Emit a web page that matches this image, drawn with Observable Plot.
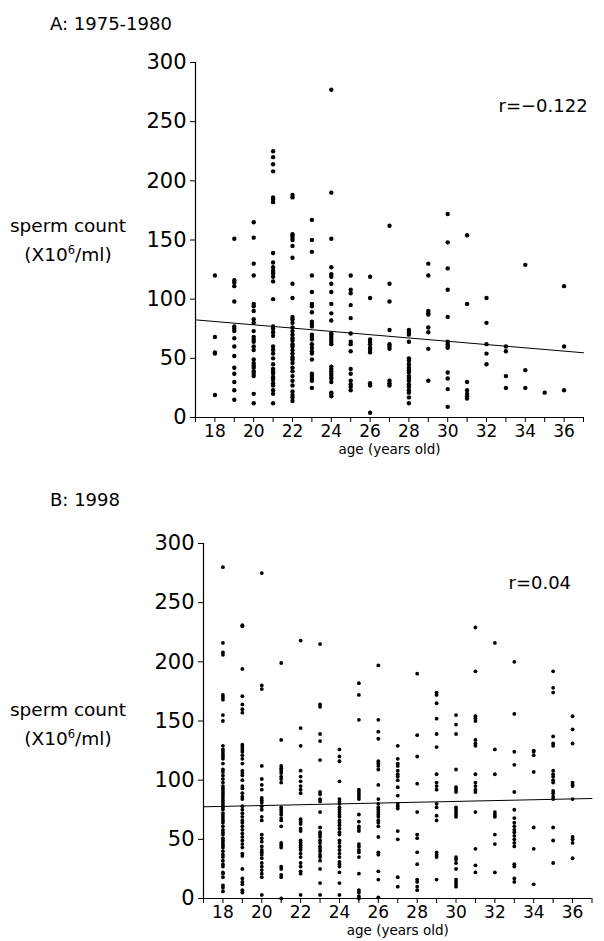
<!DOCTYPE html>
<html><head><meta charset="utf-8">
<script src="https://cdn.jsdelivr.net/npm/d3@7"></script>
<script src="https://cdn.jsdelivr.net/npm/@observablehq/plot@0.6"></script>
<style>
body{margin:0;background:#fff;}
#wrap{position:relative;width:604px;height:941px;overflow:hidden;font-family:"DejaVu Sans",sans-serif;color:#000;background:#fff;}
.panel{position:absolute;left:0;}
.lab{position:absolute;white-space:nowrap;line-height:1;}
.ttl{font-size:18px;}
.yl{font-size:18.5px;transform:translate(-50%,-50%);text-align:center;}
.yl sup{font-size:0.62em;vertical-align:0.6em;line-height:0;}
</style></head><body>
<div id="wrap">
<div id="pa" class="panel" style="top:0"></div>
<div id="pb" class="panel" style="top:470px"></div>
<div class="lab ttl" style="left:50px;top:15px">A: 1975-1980</div>
<div class="lab yl" style="left:68px;top:226px">sperm count</div>
<div class="lab yl" style="left:68px;top:255px">(X10<sup>6</sup>/ml)</div>
<div class="lab ttl" style="left:50px;top:491px">B: 1998</div>
<div class="lab yl" style="left:68px;top:710px">sperm count</div>
<div class="lab yl" style="left:68px;top:739px">(X10<sup>6</sup>/ml)</div>
</div>
<script>
const ages = [18,19,20,21,22,23,24,25,26,27,28,29,30,31,32,33,34,35,36];
const yTicks = [0,50,100,150,200,250,300];
const xTicks = d3.range(17, 38);

// Panel A: 1975-1980, sperm count (x10^6/ml) per age column
const countsA = [
  [120,68,55,54,19],
  [151,116,114,111,98,77,75,73,67,60,52,42,37,30,23,15],
  [165,152,130,120,96,94,90,83,80,73,68,66,64,60,57,49,46,44,42,39,37,35,20,12],
  [225,220,214,208,186,184,182,139,131,127,124,122,119,115,100,77,75,72,69,60,57,54,50,45,41,39,37,34,32,29,27,23,20,12],
  [188,186,155,154,152,150,145,135,113,101,85,83,80,76,73,70,67,65,62,60,57,54,51,49,46,42,39,35,31,27,22,19,17,14],
  [167,150,140,120,106,96,94,89,81,79,77,70,68,66,62,59,56,54,49,37,35,33,31,25],
  [277,190,151,127,121,119,113,106,96,88,82,71,70,68,66,64,62,43,41,39,37,35,33,30,21,20,18],
  [120,108,105,95,84,71,64,62,56,41,37,31,28,26,23],
  [119,101,66,64,62,59,57,55,29,27,4],
  [162,113,98,74,62,60,58,31,29,27],
  [74,72,70,64,50,48,45,42,40,38,35,33,31,28,26,23,21,17,12],
  [130,120,90,88,87,76,72,58,31],
  [172,148,126,108,85,64,62,60,59,38,33,24,9],
  [154,96,30,23,20,18,16],
  [101,80,62,54,45],
  [60,56,35,25],
  [129,40,25],
  [21],
  [111,60,23]
];
const fitA = [[17, 82.5], [37, 54.7]];
const rA = "r=\u22120.122";

// Panel B: 1998
const countsB = [
  [280,216,208,206,172,170,168,155,150,129,126,124,122,120,118,114,109,107,104,101,98,95,93,91,89,87,85,83,81,79,77,75,72,70,68,66,64,61,58,56,54,51,49,47,45,43,40,37,35,32,29,27,22,21,18,11,9,6],
  [231,230,194,171,164,160,157,130,128,126,124,121,118,114,108,106,104,100,95,93,89,86,84,78,75,72,69,66,64,61,58,55,52,49,46,43,38,36,25,17,14,12,7,5],
  [275,180,177,112,101,96,92,85,83,81,78,75,69,66,54,51,48,44,41,39,37,34,30,27,24,21,18,3],
  [199,134,112,110,108,106,103,101,98,77,75,73,71,68,66,61,47,45,43,27,25,20,18,0],
  [218,144,129,108,103,99,95,92,89,67,65,63,59,57,49,47,45,43,41,38,35,30,27,23,21,3],
  [215,164,162,139,133,117,90,88,84,82,73,60,56,54,52,49,47,44,42,40,37,35,32,25,13,3],
  [126,120,116,99,84,82,80,77,75,73,71,69,66,64,62,59,56,54,49,47,44,41,38,35,31,29,27,22,13,3],
  [182,172,151,92,90,88,86,84,71,65,61,59,57,46,44,41,39,35,21,7,5,2,0],
  [197,151,141,135,116,114,112,109,96,84,80,77,75,73,71,69,66,64,61,52,39,37,23,16,1],
  [129,118,114,112,108,105,103,100,94,87,80,78,76,57,50,18,10],
  [190,138,120,97,73,54,51,39,29,16,14,10,7],
  [174,172,165,152,139,128,105,98,95,92,80,77,70,66,39,37,35,16],
  [155,147,139,109,94,92,90,77,75,73,71,69,35,33,30,25,16,14,12,10],
  [229,192,154,152,150,134,131,129,105,98,95,92,90,73,42,28,22],
  [216,126,105,73,71,69,54,46,22],
  [200,156,124,113,90,75,68,64,61,58,56,53,50,47,44,29,27,17,14],
  [125,124,121,107,60,42,12],
  [192,178,174,137,131,129,108,105,103,100,98,91,89,86,84,60,49,30],
  [154,143,131,98,96,95,84,52,50,47,34]
];
const fitB = [[17, 77.5], [37, 84.5]];
const rB = "r=0.04";

const xLabel = "age (years old)";

function panel(counts, fit, rText, o) {
  const pts = ages.flatMap((a, i) => counts[i].map(v => ({age: a, count: v})));
  const fitData = fit.map(([age, count]) => ({age, count}));
  return Plot.plot({
    width: 604, height: o.height,
    marginLeft: o.ml, marginRight: o.mr, marginTop: o.mt, marginBottom: o.mb,
    x: {domain: [17, 37]},
    y: {domain: [0, 300]},
    style: {fontFamily: "'DejaVu Sans', sans-serif", background: "white", color: "black", overflow: "visible"},
    marks: [
      Plot.ruleX([17], {y1: 0, y2: 300, stroke: "black", strokeWidth: 1.2}),
      Plot.ruleY([0], {stroke: "black", strokeWidth: 1.2}),
      Plot.axisY({ticks: yTicks, tickSize: 5, tickPadding: 4, fontSize: 21, label: null}),
      Plot.axisX({ticks: xTicks, tickSize: 5, tickPadding: 2, fontSize: 17, label: null,
                  tickFormat: d => d % 2 === 0 ? String(d) : ""}),
      Plot.line(fitData, {x: "age", y: "count", stroke: "black", strokeWidth: 1}),
      Plot.dot(pts, {x: "age", y: "count", r: o.r, fill: "black"}),
      Plot.text([rText], {frameAnchor: "top-left", dx: o.rdx, dy: o.rdy, textAnchor: "start", lineAnchor: "middle", fontSize: 18}),
      Plot.text([xLabel], {frameAnchor: "bottom", dy: 32, lineAnchor: "middle", fontSize: 13.5})
    ]
  });
}

document.getElementById("pa").append(panel(countsA, fitA, rA,
  {height: 470, ml: 195, mr: 21, mt: 62, mb: 53, r: 2.2, rdx: 303, rdy: 44}));
document.getElementById("pb").append(panel(countsB, fitB, rB,
  {height: 471, ml: 203, mr: 12.5, mt: 73, mb: 43, r: 1.9, rdx: 305, rdy: 40}));
</script>
</body></html>
